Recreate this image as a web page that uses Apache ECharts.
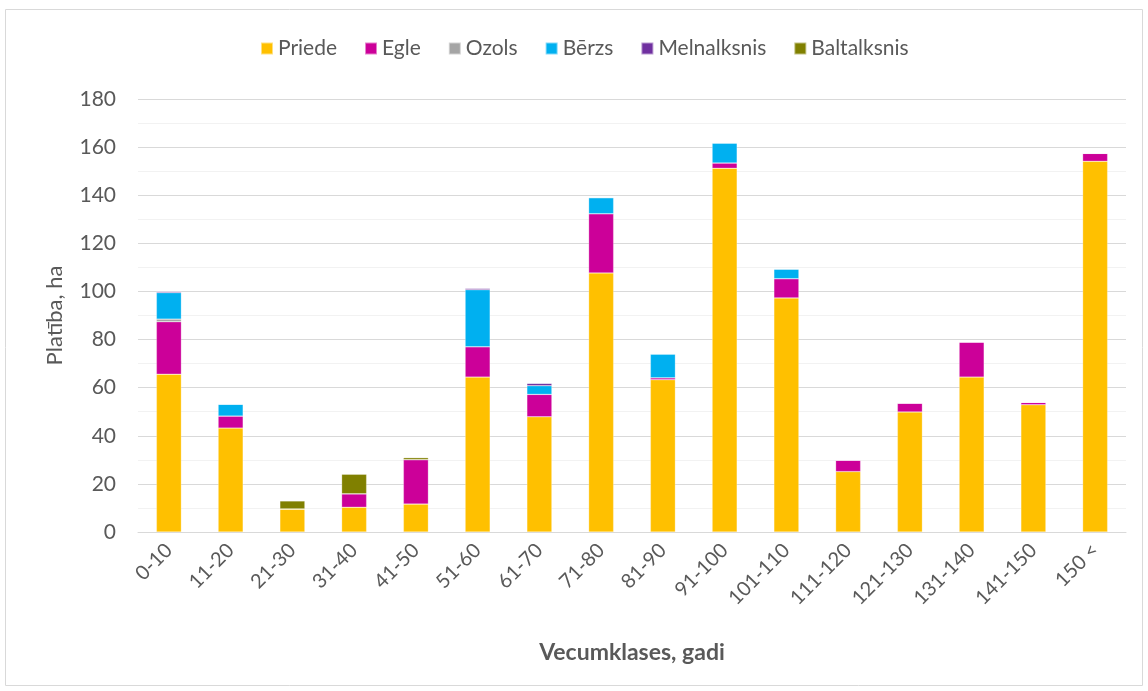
<!DOCTYPE html>
<html>
<head>
<meta charset="utf-8">
<script src="https://cdn.jsdelivr.net/npm/echarts@6/dist/echarts.min.js"></script>
<style>
  html, body { margin: 0; padding: 0; background: #fff; }
  #chart { width: 1148px; height: 691px; }
</style>
</head>
<body>
<div id="chart"></div>
<script>
var categories = ['0-10', '11-20', '21-30', '31-40', '41-50', '51-60', '61-70', '71-80',
  '81-90', '91-100', '101-110', '111-120', '121-130', '131-140', '141-150', '150 <'];

var priede      = [65.6, 43.2, 9.6, 10.3, 11.6, 64.4, 47.9, 107.7, 63.3, 151.2, 97.3, 25.1, 49.9, 64.4, 52.9, 154.1];
var egle        = [21.8, 5.0, 0, 5.6, 18.5, 12.6, 9.3, 24.6, 0.8, 2.2, 8.0, 4.8, 3.7, 14.6, 1.0, 3.3];
var ozols       = [1.1, 0, 0, 0, 0, 0, 0, 0, 0, 0, 0, 0, 0, 0, 0, 0];
var berzs       = [11.0, 4.9, 0, 0, 0, 23.7, 3.6, 6.7, 9.9, 8.3, 4.0, 0, 0, 0, 0, 0];
var melnalksnis = [0.5, 0, 0, 0, 0, 0.6, 1.0, 0, 0, 0, 0, 0, 0, 0, 0, 0];
var baltalksnis = [0, 0, 3.3, 8.1, 0.8, 0, 0, 0, 0, 0, 0, 0, 0, 0, 0, 0];

var yTicks = { min: 0, max: 180, interval: 20 };

var FONT = 'Lato, "Open Sans", sans-serif';
var TEXT = '#595959';

var chart = echarts.init(document.getElementById('chart'));

function barSeries(name, data, color) {
  return {
    name: name,
    type: 'bar',
    stack: 'total',
    barWidth: 25,
    data: data,
    itemStyle: { color: color, borderColor: 'rgba(255,255,255,0.5)', borderWidth: 0.5 },
    emphasis: { disabled: true }
  };
}

var option = {
  animation: false,
  textStyle: { fontFamily: FONT },
  graphic: [{
    type: 'rect',
    shape: { x: 5.5, y: 9.5, width: 1137, height: 676 },
    style: { fill: 'none', stroke: '#d9d9d9', lineWidth: 1 },
    silent: true
  }],
  legend: {
    top: 33,
    left: 255,
    itemWidth: 12,
    itemHeight: 12,
    itemGap: 27,
    icon: 'rect',
    textStyle: { fontFamily: FONT, fontSize: 21, color: TEXT },
    data: ['Priede', 'Egle', 'Ozols', 'Bērzs', 'Melnalksnis', 'Baltalksnis']
  },
  grid: {
    left: 138,
    right: 22,
    top: 99,
    bottom: 159
  },
  xAxis: {
    type: 'category',
    data: categories,
    name: 'Vecumklases, gadi',
    nameLocation: 'middle',
    nameGap: 109,
    nameTextStyle: { fontFamily: FONT, fontSize: 23, fontWeight: 'bold', color: TEXT },
    axisLine: { lineStyle: { color: '#d9d9d9', width: 1 } },
    axisTick: { show: false },
    axisLabel: { rotate: 45, fontSize: 20, color: TEXT, margin: 15, interval: 0, fontFamily: FONT }
  },
  yAxis: {
    type: 'value',
    min: yTicks.min,
    max: yTicks.max,
    interval: yTicks.interval,
    name: 'Platība, ha',
    nameLocation: 'middle',
    nameGap: 72,
    nameTextStyle: { fontFamily: FONT, fontSize: 22, color: TEXT },
    axisLine: { show: false },
    axisTick: { show: false },
    axisLabel: { fontSize: 21, color: TEXT, margin: 22, fontFamily: FONT },
    splitLine: { lineStyle: { color: '#d9d9d9', width: 1 } },
    minorTick: { show: false, splitNumber: 2 },
    minorSplitLine: { show: true, lineStyle: { color: '#f2f2f2', width: 1 } }
  },
  series: [
    barSeries('Priede', priede, '#FFC000'),
    barSeries('Egle', egle, '#CC0099'),
    barSeries('Ozols', ozols, '#A5A5A5'),
    barSeries('Bērzs', berzs, '#00B0F0'),
    barSeries('Melnalksnis', melnalksnis, '#7030A0'),
    barSeries('Baltalksnis', baltalksnis, '#808000')
  ]
};

chart.setOption(option);

window.addEventListener('resize', function () {
  chart.resize();
});
</script>
</body>
</html>
